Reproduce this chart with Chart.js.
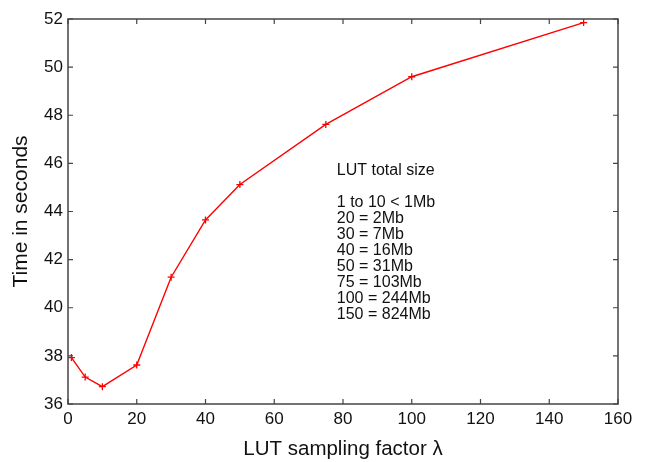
<!DOCTYPE html>
<html>
<head>
<meta charset="utf-8">
<script src="https://cdn.jsdelivr.net/npm/chart.js@4/dist/chart.umd.min.js"></script>
<style>
  html, body { margin: 0; padding: 0; background: #fff; }
  #wrap { width: 650px; height: 462px; }
</style>
</head>
<body>
<div id="wrap"><canvas id="chart"></canvas></div>
<script>
// data
var samplingFactor = [1, 5, 10, 20, 30, 40, 50, 75, 100, 150];
var timeSeconds = [37.93, 37.12, 36.72, 37.62, 41.27, 43.65, 45.12, 47.62, 49.60, 51.85];
var xTicks = [0, 20, 40, 60, 80, 100, 120, 140, 160];
var yTicks = [36, 38, 40, 42, 44, 46, 48, 50, 52];
var noteLines = ['LUT total size', '', '1 to 10 < 1Mb', '20 = 2Mb', '30 = 7Mb', '40 = 16Mb',
                 '50 = 31Mb', '75 = 103Mb', '100 = 244Mb', '150 = 824Mb'];

var fontFam = '"Liberation Sans", Arial, Helvetica, sans-serif';

// box with inward ticks on all four sides, plus the text note
var boxPlugin = {
    id: 'boxPlugin',
    afterDraw: function(chart) {
        var c = chart.ctx, a = chart.chartArea;
        var xs = chart.scales.x, ys = chart.scales.y;
        c.save();
        c.strokeStyle = '#444';
        c.lineWidth = 1.5;
        c.strokeRect(a.left, a.top, a.right - a.left, a.bottom - a.top);
        c.lineWidth = 1.2;
        c.beginPath();
        xTicks.forEach(function(v) {
            var px = xs.getPixelForValue(v);
            c.moveTo(px, a.bottom); c.lineTo(px, a.bottom - 5);
            c.moveTo(px, a.top); c.lineTo(px, a.top + 5);
        });
        yTicks.forEach(function(v) {
            var py = ys.getPixelForValue(v);
            c.moveTo(a.left, py); c.lineTo(a.left + 5, py);
            c.moveTo(a.right, py); c.lineTo(a.right - 5, py);
        });
        c.stroke();

        c.fillStyle = '#111';
        c.font = '16px ' + fontFam;
        c.textBaseline = 'middle';
        c.textAlign = 'left';
        var tx = xs.getPixelForValue(78.2);
        var ty = ys.getPixelForValue(45.7);
        noteLines.forEach(function(t, i) {
            c.fillText(t, tx, ty + i * 16);
        });
        c.restore();
    }
};

new Chart(document.getElementById('chart'), {
    type: 'line',
    data: {
        datasets: [{
            data: samplingFactor.map(function(x, i) { return {x: x, y: timeSeconds[i]}; }),
            borderColor: '#ff0000',
            borderWidth: 1.4,
            pointStyle: 'cross',
            pointRadius: 3.5,
            pointBorderWidth: 1.3,
            pointBorderColor: '#ff0000',
            fill: false,
            tension: 0
        }]
    },
    options: {
        responsive: true,
        maintainAspectRatio: false,
        animation: false,
        layout: { padding: { left: 0, right: 32, top: 19, bottom: 0 } },
        plugins: { legend: { display: false }, tooltip: { enabled: false } },
        scales: {
            x: {
                type: 'linear',
                min: 0, max: 160,
                afterBuildTicks: function(s) { s.ticks = xTicks.map(function(v) { return {value: v}; }); },
                afterFit: function(s) { s.height = 58; },
                grid: { display: false, drawTicks: false },
                border: { display: false },
                ticks: { color: '#111', font: { size: 17, family: fontFam }, padding: 5, maxRotation: 0 },
                title: { display: true, text: 'LUT sampling factor \u03bb', color: '#111',
                         font: { size: 20.5, family: fontFam }, padding: { top: 0, bottom: 0 } }
            },
            y: {
                min: 36, max: 52,
                afterBuildTicks: function(s) { s.ticks = yTicks.map(function(v) { return {value: v}; }); },
                afterFit: function(s) { s.width = 68; },
                grid: { display: false, drawTicks: false },
                border: { display: false },
                ticks: { color: '#111', font: { size: 17, family: fontFam }, padding: 5 },
                title: { display: true, text: 'Time in seconds', color: '#111',
                         font: { size: 21, family: fontFam }, padding: { top: 9, bottom: 0 } }
            }
        }
    },
    plugins: [boxPlugin]
});
</script>
</body>
</html>
